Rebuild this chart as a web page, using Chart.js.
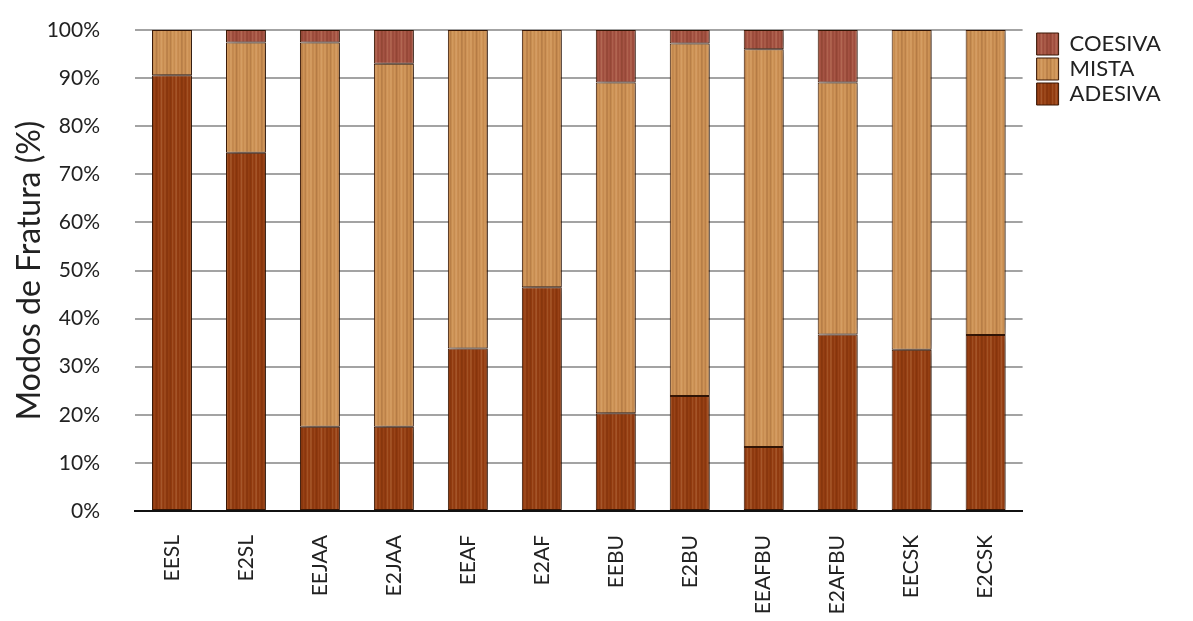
<!DOCTYPE html>
<html>
<head>
<meta charset="utf-8">
<script src="https://cdn.jsdelivr.net/npm/chart.js@4"></script>
<style>
  html, body { margin: 0; padding: 0; background: #fff; }
  #wrap { width: 1193px; height: 621px; position: relative; }
</style>
</head>
<body>
<div id="wrap"><canvas id="fratura-chart"></canvas></div>
<script>
// data
const categories = ['EESL', 'E2SL', 'EEJAA', 'E2JAA', 'EEAF', 'E2AF', 'EEBU', 'E2BU', 'EEAFBU', 'E2AFBU', 'EECSK', 'E2CSK'];
const adesiva = [90.6, 74.5, 17.5, 17.5, 33.8, 46.5, 20.3, 23.9, 13.3, 36.7, 33.5, 36.6];
const mista   = [9.4, 22.9, 79.9, 75.5, 66.2, 53.5, 68.8, 73.3, 82.7, 52.4, 66.5, 63.4];
const coesiva = [0, 2.6, 2.6, 7.0, 0, 0, 10.9, 2.8, 4.0, 10.9, 0, 0];
const yTicks = [0, 10, 20, 30, 40, 50, 60, 70, 80, 90, 100];

const FONT = 'Lato, "Open Sans", sans-serif';

// simple wood-grain fill, vertical streaks over a base colour
function woodPattern(base) {
  const c = document.createElement('canvas');
  c.width = 40; c.height = 200;
  const g = c.getContext('2d');
  g.fillStyle = base;
  g.fillRect(0, 0, 40, 200);
  for (let i = 0; i < 40; i++) {
    const a = 0.10 * Math.sin(i * 1.7) + 0.07 * Math.sin(i * 0.45 + 1);
    g.fillStyle = a > 0 ? 'rgba(255,225,180,' + a + ')' : 'rgba(60,20,0,' + (-a) + ')';
    g.fillRect(i, 0, 1, 200);
  }
  return g.createPattern(c, 'repeat');
}

const barShadow = {
  id: 'barShadow',
  beforeDatasetsDraw(chart) {
    const ctx = chart.ctx;
    ctx.save();
    ctx.shadowColor = 'rgba(0,0,0,0.38)';
    ctx.shadowBlur = 9;
    ctx.shadowOffsetX = 6;
    ctx.shadowOffsetY = 0;
  },
  afterDatasetsDraw(chart) {
    chart.ctx.restore();
  }
};

const ctx = document.getElementById('fratura-chart').getContext('2d');

new Chart(ctx, {
  type: 'bar',
  data: {
    labels: categories,
    datasets: [
      {
        label: 'ADESIVA',
        data: adesiva,
        backgroundColor: woodPattern('rgb(148,60,16)'),
        borderColor: '#3a1806',
        borderWidth: 1,
        borderSkipped: false
      },
      {
        label: 'MISTA',
        data: mista,
        backgroundColor: woodPattern('rgb(205,145,84)'),
        borderColor: '#3a1806',
        borderWidth: 1,
        borderSkipped: false
      },
      {
        label: 'COESIVA',
        data: coesiva,
        backgroundColor: woodPattern('rgb(163,80,64)'),
        borderColor: '#3a1806',
        borderWidth: 1,
        borderSkipped: false
      }
    ]
  },
  options: {
    responsive: true,
    maintainAspectRatio: false,
    animation: false,
    layout: { padding: { top: 30, right: 22, left: 0, bottom: 0 } },
    datasets: {
      bar: { barPercentage: 0.54, categoryPercentage: 1.0 }
    },
    plugins: {
      tooltip: { enabled: false },
      legend: {
        position: 'right',
        align: 'start',
        reverse: true,
        labels: {
          boxWidth: 22,
          boxHeight: 22,
          padding: 3,
          color: '#222',
          font: { family: FONT, size: 22 }
        }
      }
    },
    scales: {
      x: {
        stacked: true,
        grid: { display: false },
        border: { display: true, color: '#111', width: 2 },
        ticks: {
          color: '#222',
          minRotation: 90,
          maxRotation: 90,
          padding: 16,
          font: { family: FONT, size: 21 }
        },
        afterFit(scale) { scale.height = 110; }
      },
      y: {
        stacked: true,
        min: 0,
        max: 100,
        afterBuildTicks(scale) { scale.ticks = yTicks.map(v => ({ value: v })); },
        grid: { color: '#a3a3a3', lineWidth: 2, drawTicks: false },
        border: { display: false },
        ticks: {
          color: '#222',
          padding: 35,
          font: { family: FONT, size: 21 },
          callback: v => v + '%'
        },
        title: {
          display: true,
          text: 'Modos de Fratura (%)',
          color: '#222',
          padding: { top: 10, bottom: 0 },
          font: { family: FONT, size: 32 }
        },
        afterFit(scale) {
          scale.width = 135;
          scale.paddingTop = 12;
          scale.paddingBottom = 12;
        }
      },
      // empty spacer between the plot and the legend
      gap: {
        type: 'linear',
        position: 'right',
        min: 0,
        max: 1,
        grid: { display: false },
        border: { display: false },
        ticks: { display: false },
        afterFit(scale) { scale.width = 11; }
      }
    }
  },
  plugins: [barShadow]
});
</script>
</body>
</html>
